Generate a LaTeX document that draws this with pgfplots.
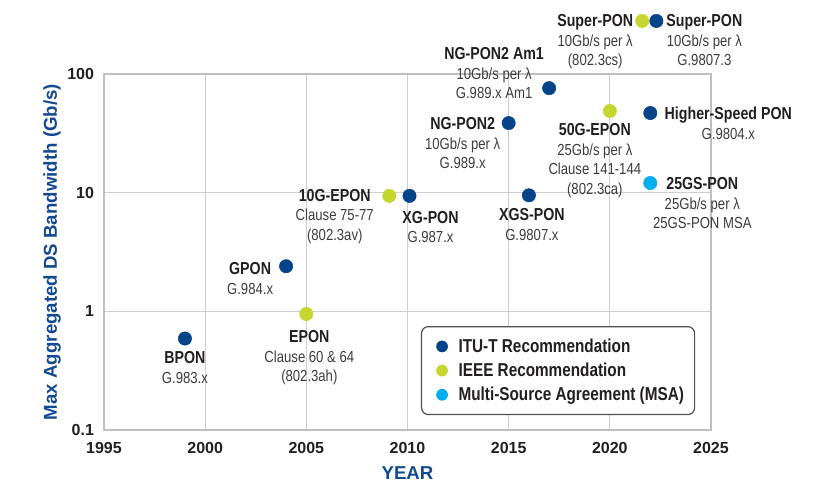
\documentclass[border=0pt]{standalone}
\usepackage{fontspec}
\IfFontExistsTF{Liberation Sans Narrow}{%
  \setmainfont{Liberation Sans Narrow}}{%
  \setmainfont{Liberation Sans}[FakeStretch=0.82]}
\newfontfamily\wide{Liberation Sans}
\usepackage{pgfplots}
\pgfplotsset{compat=1.18}
\definecolor{itublue}{RGB}{6,68,138}
\definecolor{ieeegreen}{RGB}{197,214,46}
\definecolor{msablue}{RGB}{0,174,239}
\definecolor{axisblue}{RGB}{18,74,146}
\definecolor{gridc}{RGB}{205,205,210}
\definecolor{framec}{RGB}{190,190,196}
\definecolor{titlec}{RGB}{35,31,32}
\definecolor{subc}{RGB}{60,60,62}
\definecolor{legc}{RGB}{80,80,82}
\newcommand{\ttl}[1]{\textbf{\textcolor{titlec}{\fontsize{13}{14.8}\selectfont #1}}}
\tikzset{lab/.style={anchor=north, inner sep=0pt, align=center, text=subc, font=\fontsize{12}{14.8}\selectfont}}
\begin{document}
\begin{tikzpicture}
\begin{axis}[
  scale only axis, width=455.25pt, height=267pt,
  xmin=1995, xmax=2025, ymin=0.1, ymax=100, ymode=log,
  xtick={1995,2000,2005,2010,2015,2020,2025},
  xticklabels={1995,2000,2005,2010,2015,2020,2025},
  ytick={0.1,1,10,100}, yticklabels={0.1,1,10,100},
  yminorticks=false,
  grid=major, major grid style={draw=gridc, line width=0.8pt},
  axis line style={draw=framec, line width=1pt},
  major tick length=0pt,
  tick label style={font=\wide\bfseries\fontsize{12}{12}\selectfont, text=titlec},
  x tick label style={yshift=-6pt},
  y tick label style={xshift=-4pt},
  xlabel={YEAR}, ylabel={Max Aggregated DS Bandwidth (Gb/s)},
  label style={font=\wide\bfseries\fontsize{14}{14}\selectfont, text=axisblue},
  xlabel style={at={(axis description cs:0.5,-0.1208)}, anchor=center},
  ylabel style={at={(axis description cs:-0.0857,0.5)}, anchor=center},
  clip=false,
  legend style={at={(rel axis cs:0.974,0.292)}, anchor=north east, draw=legc, line width=0.9pt, rounded corners=5pt, font=\bfseries\fontsize{14}{14}\selectfont, text=titlec, row sep=2.5pt, inner xsep=6pt, inner ysep=7pt},
  legend cell align=left,
  legend image code/.code={\path[draw=none, fill=none] (0pt,0pt) -- (19.75pt,0pt); \fill[#1, draw=none] (9.35pt,0pt) circle (4.4pt);},
]
\addplot[only marks, mark=*, color=itublue, mark size=5pt] coordinates {
 (1999,0.59) (2004,2.4) (2010.1,9.4) (2015,38.6) (2016,9.5) (2017,76) (2022,46.9) (2022.3,280)
};
\addlegendentry{ITU-T Recommendation}
\addplot[only marks, mark=*, color=ieeegreen, mark size=5pt] coordinates {
 (2005,0.95) (2009.1,9.4) (2020,48.8) (2021.6,280)
};
\addlegendentry{IEEE Recommendation}
\addplot[only marks, mark=*, color=msablue, mark size=5pt] coordinates {
 (2022,12.06)
};
\addlegendentry{Multi-Source Agreement (MSA)}

\node[lab, xshift=0pt, yshift=-9.75pt] at (axis cs:1999,0.59) {\ttl{BPON}\\G.983.x};
\node[lab, xshift=-27pt, yshift=3pt] at (axis cs:2004,2.4) {\ttl{GPON}\\G.984.x};
\node[lab, xshift=2.25pt, yshift=-12pt] at (axis cs:2005,0.95) {\ttl{EPON}\\Clause 60 \& 64\\(802.3ah)};
\node[lab, xshift=-40.9pt, yshift=5.25pt] at (axis cs:2009.1,9.4) {\ttl{10G-EPON}\\Clause 75-77\\(802.3av)};
\node[lab, xshift=15.75pt, yshift=-11.25pt] at (axis cs:2010.1,9.4) {\ttl{XG-PON}\\G.987.x};
\node[lab, xshift=-34.5pt, yshift=4.5pt] at (axis cs:2015,38.6) {\ttl{NG-PON2}\\10Gb/s per λ\\G.989.x};
\node[lab, xshift=-41.25pt, yshift=30.75pt] at (axis cs:2017,76) {\ttl{NG-PON2 Am1}\\10Gb/s per λ\\G.989.x Am1};
\node[lab, xshift=2.25pt, yshift=-9.75pt] at (axis cs:2016,9.5) {\ttl{XGS-PON}\\G.9807.x};
\node[lab, xshift=-11.25pt, yshift=-9pt] at (axis cs:2020,48.8) {\ttl{50G-EPON}\\25Gb/s per λ\\Clause 141-144\\(802.3ca)};
\node[lab, xshift=58.5pt, yshift=4.5pt] at (axis cs:2022,46.9) {\ttl{Higher-Speed PON}\\G.9804.x};
\node[lab, xshift=39pt, yshift=4.5pt] at (axis cs:2022,12.06) {\ttl{25GS-PON}\\25Gb/s per λ\\25GS-PON MSA};
\node[lab, xshift=-35.25pt, yshift=5.25pt] at (axis cs:2021.6,280) {\ttl{Super-PON}\\10Gb/s per λ\\(802.3cs)};
\node[lab, xshift=36pt, yshift=5.25pt] at (axis cs:2022.3,280) {\ttl{Super-PON}\\10Gb/s per λ\\G.9807.3};
\end{axis}
\path[use as bounding box] ([shift={(-78pt,-37.5pt)}]current axis.south west) rectangle ([shift={(90pt,55.5pt)}]current axis.north east);
\end{tikzpicture}
\end{document}
